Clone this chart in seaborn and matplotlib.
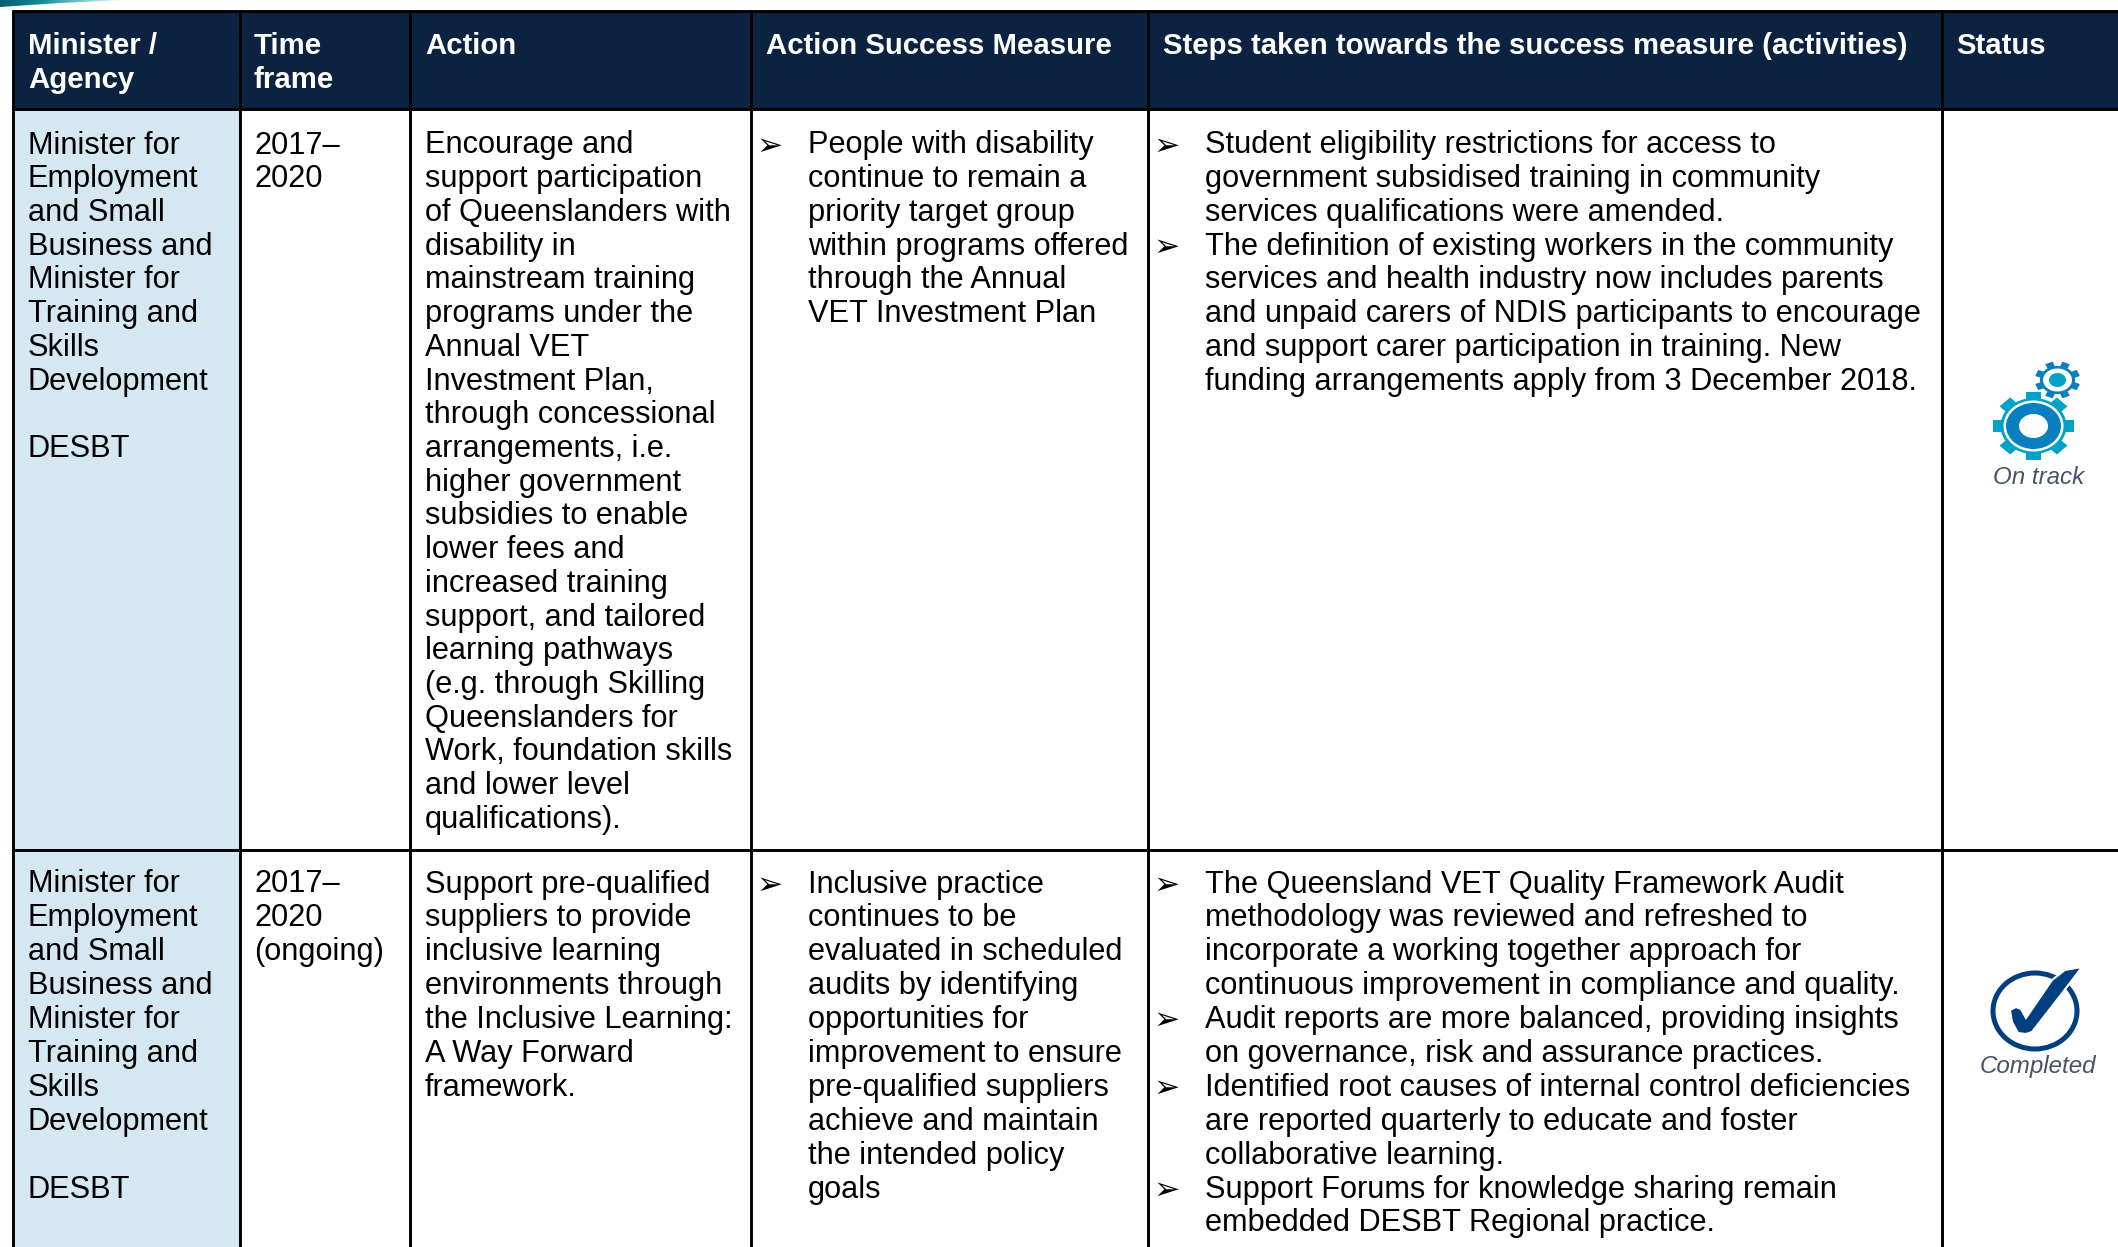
import numpy as np
import seaborn as sns
import matplotlib
matplotlib.use("Agg")
import matplotlib.pyplot as plt
from matplotlib.patches import Rectangle, Ellipse, Polygon
from matplotlib.transforms import Affine2D

headers = [["Minister /", "Agency"], ["Time", "frame"], ["Action"], ["Action Success Measure"],
           ["Steps taken towards the success measure (activities)"], ["Status"]]

minister = ["Minister for", "Employment", "and Small", "Business and", "Minister for", "Training and",
            "Skills", "Development", "", "DESBT"]
time1 = ["2017–", "2020"]
time2 = ["2017–", "2020", "(ongoing)"]
action1 = ["Encourage and", "support participation", "of Queenslanders with", "disability in",
           "mainstream training", "programs under the", "Annual VET", "Investment Plan,",
           "through concessional", "arrangements, i.e.", "higher government", "subsidies to enable",
           "lower fees and", "increased training", "support, and tailored", "learning pathways",
           "(e.g. through Skilling", "Queenslanders for", "Work, foundation skills", "and lower level",
           "qualifications)."]
action2 = ["Support pre-qualified", "suppliers to provide", "inclusive learning", "environments through",
           "the Inclusive Learning:", "A Way Forward", "framework."]
measure1 = ["People with disability", "continue to remain a", "priority target group",
            "within programs offered", "through the Annual", "VET Investment Plan"]
measure2 = ["Inclusive practice", "continues to be", "evaluated in scheduled", "audits by identifying",
            "opportunities for", "improvement to ensure", "pre-qualified suppliers",
            "achieve and maintain", "the intended policy", "goals"]
steps1 = ["Student eligibility restrictions for access to",
          "government subsidised training in community",
          "services qualifications were amended.",
          "The definition of existing workers in the community",
          "services and health industry now includes parents",
          "and unpaid carers of NDIS participants to encourage",
          "and support carer participation in training. New",
          "funding arrangements apply from 3 December 2018."]
steps1_bullets = [0, 3]
steps2 = ["The Queensland VET Quality Framework Audit",
          "methodology was reviewed and refreshed to",
          "incorporate a working together approach for",
          "continuous improvement in compliance and quality.",
          "Audit reports are more balanced, providing insights",
          "on governance, risk and assurance practices.",
          "Identified root causes of internal control deficiencies",
          "are reported quarterly to educate and foster",
          "collaborative learning.",
          "Support Forums for knowledge sharing remain",
          "embedded DESBT Regional practice."]
steps2_bullets = [0, 4, 6, 9]
status_labels = ["On track", "Completed"]

W, H = 2118, 1247
sns.set_theme(style="white")
plt.rcParams["font.family"] = ["Liberation Sans", "DejaVu Sans"]
fig = plt.figure(figsize=(W / 100, H / 100), dpi=100, facecolor="white")
ax = fig.add_axes([0, 0, 1, 1])
ax.set_xlim(0, W); ax.set_ylim(H, 0); ax.axis("off")

NAVY = "#0B2240"; PALE = "#D5E8F2"; INK = "#000000"
edges = [13, 240, 410, 751, 1148, 1942]
head_top, head_bot, row2 = 11, 109, 850
text_x = [28, 254, 425, 766, 1163, 1956]
FS = 22.12
base1, base2 = 153.5, 892.5
pitch1, pitch2 = 33.72, 33.9

ax.add_patch(Rectangle((edges[0], head_top), W - edges[0], head_bot - head_top, fc=NAVY, ec="none", zorder=1))
ax.add_patch(Rectangle((edges[0], head_bot), edges[1] - edges[0], H - head_bot, fc=PALE, ec="none", zorder=1))

# swoosh at the top edge
grad = np.linspace(0, 1, 256).reshape(1, -1)
cmap = matplotlib.colors.LinearSegmentedColormap.from_list("sw", ["#0B5C70", "#0E8C9C", "#7FC9CF", "#FFFFFF"])
im = ax.imshow(grad, extent=(0, 125, 8, 0), cmap=cmap, aspect="auto", zorder=1)
clip = Polygon([(0, 0), (125, 0), (60, 3), (0, 7)], transform=ax.transData, fc="none", ec="none")
ax.add_patch(clip); im.set_clip_path(clip)
ax.set_xlim(0, W); ax.set_ylim(H, 0)

for x in edges:
    ax.plot([x, x], [head_top - 1, H], color="black", lw=2.1, solid_capstyle="butt", zorder=3)
for y in [head_top, head_bot, row2]:
    ax.plot([edges[0] - 1, W], [y, y], color="black", lw=2.1, solid_capstyle="butt", zorder=3)

for x, lines in zip(text_x, headers):
    for i, s in enumerate(lines):
        ax.text(x, 54.5 + i * 33.5, s, color="white", fontsize=21.13, fontweight="bold", va="baseline", zorder=4)

def column(x, base, pitch, lines, bullets=(), bullet_x=None):
    for i, s in enumerate(lines):
        ax.text(x, base + i * pitch, s, color=INK, fontsize=FS, va="baseline", zorder=4)
    for i in bullets:
        ax.text(bullet_x, base + i * pitch + 1, "➢", color=INK, fontsize=22.5, family="DejaVu Sans",
                va="baseline", ha="left", zorder=4)

column(text_x[0], base1, pitch1, minister); column(text_x[0], base2, pitch2, minister)
column(text_x[1], base1, pitch1, time1); column(text_x[1], base2, pitch2, time2)
column(text_x[2], base1, pitch1, action1); column(text_x[2], base2, pitch2, action2)
column(808, base1, pitch1, measure1, [0], 757); column(808, base2, pitch2, measure2, [0], 757)
column(1205, base1, pitch1, steps1, steps1_bullets, 1154); column(1205, base2, pitch2, steps2, steps2_bullets, 1154)

def gear(cx, cy, rx, ry, teeth, tooth_w, tooth_col, start=0.0):
    sy = ry / rx
    for k in range(teeth):
        a = start + k * 360 / teeth
        tr = Affine2D().rotate_deg(a).scale(1, sy).translate(cx, cy) + ax.transData
        ax.add_patch(Rectangle((0, -tooth_w / 2), rx, tooth_w, fc=tooth_col, ec="none", transform=tr, zorder=4))

TEAL = "#00A3C7"; BLUE = "#0A7FC0"
# large gear
cx, cy = 2033.5, 426
gear(cx, cy, 40.5, 34, 8, 15, TEAL)
ax.add_patch(Ellipse((cx, cy), 66, 56, fc=TEAL, ec="none", zorder=5))
ax.add_patch(Ellipse((cx, cy), 60, 51, fc="white", ec="none", zorder=5))
ax.add_patch(Ellipse((cx, cy), 55, 46, fc=BLUE, ec="none", zorder=5))
ax.add_patch(Ellipse((cx, cy), 29, 24, fc="white", ec="none", zorder=5))
# small gear
cx2, cy2 = 2057.5, 380
gear(cx2, cy2, 22.5, 18.5, 8, 8, BLUE, 22.5)
ax.add_patch(Ellipse((cx2, cy2), 35, 28, fc=BLUE, ec="none", zorder=5))
ax.add_patch(Ellipse((cx2, cy2), 29, 23, fc="white", ec="none", zorder=5))
ax.add_patch(Ellipse((cx2, cy2), 17, 14, fc=TEAL, ec="none", zorder=5))

# check mark
DARK = "#003F7F"
ax.add_patch(Ellipse((2035, 1011), 84, 76, fc="none", ec=DARK, lw=3.6, zorder=4))
tick = [(2010, 1010), (2016, 1007), (2021, 1009), (2026, 1018), (2052, 980), (2065, 970), (2082, 967),
        (2076, 975), (2060, 996), (2032, 1032), (2026, 1034), (2018, 1033), (2012, 1022)]
ax.add_patch(Polygon(tick, closed=True, fc=DARK, ec="white", lw=1.5, zorder=5))

ax.text(2039, 484, status_labels[0], color="#44546A", fontsize=17.4, style="italic", ha="center", va="baseline", zorder=6)
ax.text(2037.5, 1073, status_labels[1], color="#44546A", fontsize=17.4, style="italic", ha="center", va="baseline", zorder=6)

fig.savefig("out.png", dpi=100, facecolor="white")
